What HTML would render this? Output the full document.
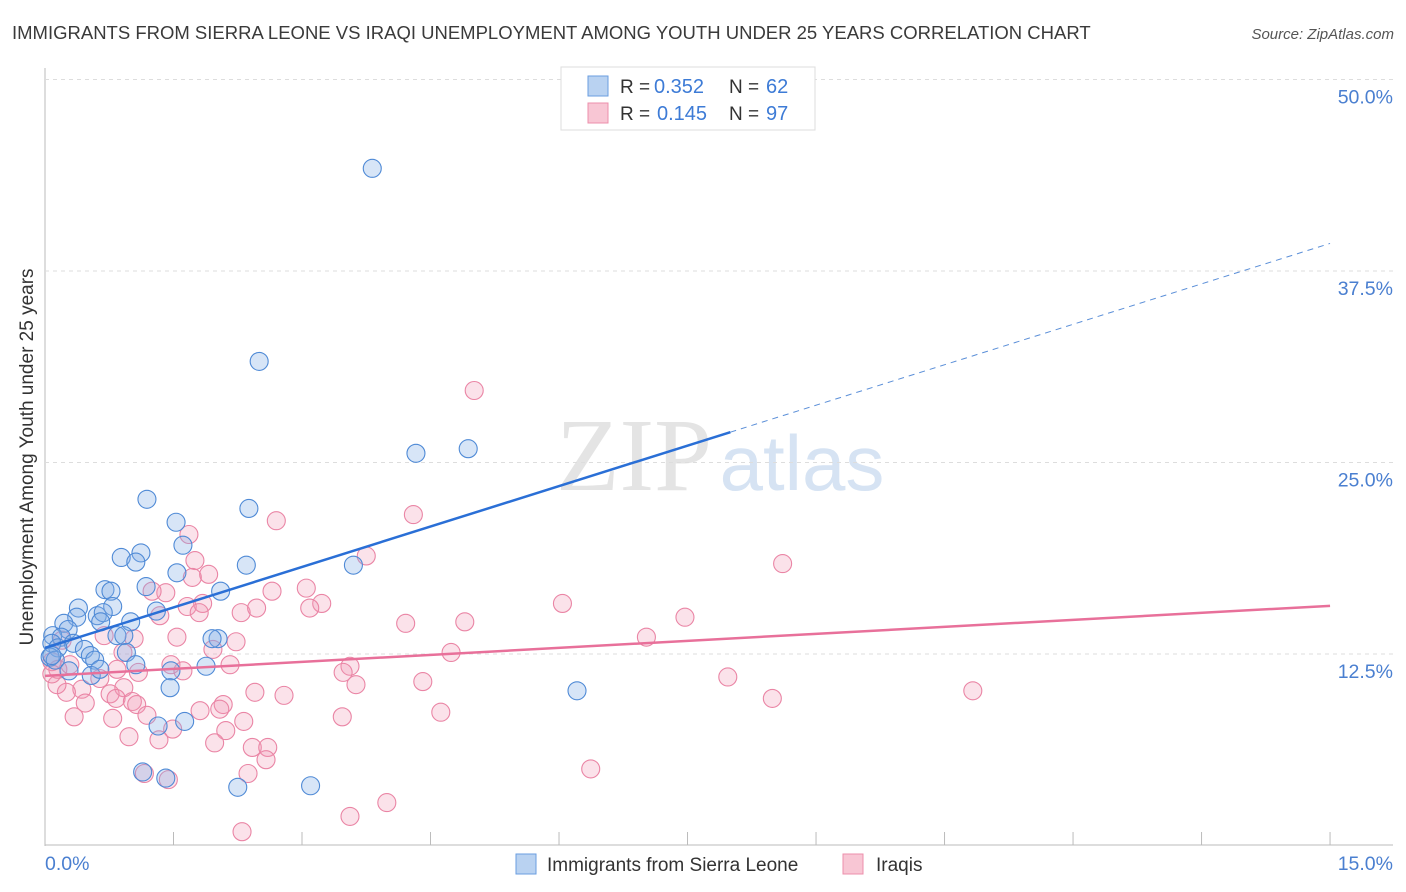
<!DOCTYPE html>
<html><head><meta charset="utf-8"><style>
body{margin:0;background:#fff;font-family:"Liberation Sans",sans-serif;}
#wrap{position:relative;width:1406px;height:892px;overflow:hidden}
</style></head><body><div id="wrap">
<svg id="svg" width="1406" height="892" xmlns="http://www.w3.org/2000/svg">
<text x="12" y="39" font-size="18.5" fill="#3a3a3a">IMMIGRANTS FROM SIERRA LEONE VS IRAQI UNEMPLOYMENT AMONG YOUTH UNDER 25 YEARS CORRELATION CHART</text>
<text x="1394" y="39" font-size="15" font-style="italic" fill="#555" text-anchor="end">Source: ZipAtlas.com</text>
<g><text x="634" y="490" font-family="Liberation Serif,serif" font-size="104" fill="#e4e4e4" text-anchor="middle">ZIP</text><text x="802" y="490" font-size="78" fill="#d6e3f3" text-anchor="middle">atlas</text></g>
<g id="grid"></g><g id="pts"></g><g id="lines"></g>
<text x="33" y="457" font-size="19" fill="#333" text-anchor="middle" transform="rotate(-90 33 457)">Unemployment Among Youth under 25 years</text>
<text x="45" y="870" font-size="19.5" fill="#4a7fd0">0.0%</text>
<text x="1393" y="870" font-size="19.5" fill="#4a7fd0" text-anchor="end">15.0%</text>
<g>
<rect x="561" y="67" width="254" height="63" fill="#fff" stroke="#ddd"/>
<rect x="588" y="76" width="20" height="20" fill="#b9d2f1" stroke="#6a9ee0"/>
<rect x="588" y="103" width="20" height="20" fill="#f8c6d4" stroke="#ec8fab"/>
<text x="620" y="93" font-size="19" fill="#333">R =</text><text x="654" y="93" font-size="20" fill="#3d7bd6">0.352</text>
<text x="729" y="93" font-size="19" fill="#333">N =</text><text x="766" y="93" font-size="20" fill="#3d7bd6">62</text>
<text x="620" y="120" font-size="19" fill="#333">R =</text><text x="657" y="120" font-size="20" fill="#3d7bd6">0.145</text>
<text x="729" y="120" font-size="19" fill="#333">N =</text><text x="766" y="120" font-size="20" fill="#3d7bd6">97</text>
</g>
<g>
<rect x="516" y="854" width="20" height="20" fill="#b9d2f1" stroke="#6a9ee0"/>
<text x="547" y="871" font-size="19" fill="#333">Immigrants from Sierra Leone</text>
<rect x="843" y="854" width="20" height="20" fill="#f8c6d4" stroke="#ec8fab"/>
<text x="876" y="871" font-size="19" fill="#333">Iraqis</text>
</g>
</svg></div>
<script>
const yTicks=[12.5,25,37.5,50];
const yTickLabels=["12.5%","25.0%","37.5%","50.0%"];
const blueX=[3.82,2.50,4.33,4.94,1.19,2.38,1.53,1.61,1.12,0.89,1.06,2.35,3.60,1.54,1.18,0.70,0.77,2.05,0.39,0.79,1.30,0.61,0.68,0.37,0.22,0.65,1.00,0.27,0.84,0.92,0.09,0.19,2.02,0.33,0.08,0.15,0.46,0.95,0.53,0.06,0.12,0.58,1.06,1.88,1.47,0.28,0.54,1.46,6.21,1.63,1.32,1.14,1.41,2.25,3.10,1.95,0.08,0.64];
const blueY=[44.2,31.6,25.6,25.9,22.6,22.0,21.1,19.6,19.1,18.8,18.5,18.3,18.3,17.8,16.9,16.7,16.6,16.6,15.5,15.6,15.3,15.0,15.2,14.9,14.5,14.6,14.6,14.1,13.7,13.7,13.7,13.6,13.5,13.2,13.2,12.9,12.8,12.6,12.4,12.3,12.1,12.1,11.8,11.7,11.4,11.4,11.1,10.3,10.1,8.1,7.8,4.8,4.4,3.8,3.9,13.5,12.4,11.5];
const pinkX=[5.01,4.30,2.70,1.68,3.75,8.61,1.75,1.72,1.91,1.41,3.05,2.65,1.25,1.84,3.23,6.04,1.66,1.80,1.34,2.29,2.47,3.09,7.47,4.21,4.90,7.02,1.54,2.23,1.04,0.69,0.91,4.74,1.96,3.56,3.48,2.16,1.47,1.61,1.09,0.84,0.64,7.97,4.41,3.63,0.92,0.76,0.43,0.25,0.14,10.83,2.45,2.79,0.83,1.02,0.47,8.49,2.08,2.04,1.81,1.07,4.62,0.34,1.19,0.79,3.47,2.32,1.49,2.11,0.98,1.33,1.98,2.42,2.60,2.58,2.37,6.37,1.16,1.44,3.99,3.56,2.30,0.15,0.08,0.29,0.20,0.08];
const pinkY=[29.7,21.6,21.2,20.3,18.9,18.4,18.6,17.5,17.7,16.5,16.8,16.6,16.6,15.8,15.8,15.8,15.6,15.2,15.0,15.2,15.5,15.5,14.9,14.5,14.6,13.6,13.6,13.3,13.5,13.7,12.6,12.6,12.8,11.7,11.3,11.8,11.8,11.4,11.3,11.5,10.9,11.0,10.7,10.5,10.3,9.9,10.2,10.0,10.5,10.1,10.0,9.8,9.6,9.4,9.3,9.6,9.2,8.9,8.8,9.2,8.7,8.4,8.5,8.3,8.4,8.1,7.6,7.5,7.1,6.9,6.7,6.4,6.4,5.6,4.7,5.0,4.7,4.3,2.8,1.9,0.9,11.5,12.0,11.8,13.4,11.2];
const blueTrend=[12.9,1.76];
const pinkTrend=[11.07,0.305];
const NS="http://www.w3.org/2000/svg";
const sx=v=>45+v*85.67, sy=v=>845.5-v*15.32;
function mk(t,a,p){const e=document.createElementNS(NS,t);for(const k in a)e.setAttribute(k,a[k]);p.appendChild(e);return e;}
const grid=document.getElementById('grid'),pts=document.getElementById('pts'),lines=document.getElementById('lines');
let ax=mk('line',{x1:45,y1:68,x2:45,y2:846,stroke:'#bbb'},grid);


let bx=mk('line',{x1:45,y1:845,x2:1393,y2:845,stroke:'#bbb'},grid);


for(let i=0;i<=10;i++){const t=mk('line',{x1:sx(i*1.5),y1:832,x2:sx(i*1.5),y2:845,stroke:'#bbb'},grid);

}
yTicks.forEach((v,i)=>{const g=mk('line',{x1:45,y1:sy(v),x2:1393,y2:sy(v),stroke:'#ddd','stroke-dasharray':'4,4'},grid);


const t=mk('text',{x:1393,y:sy(v)+24,'font-size':19.5,fill:'#4a7fd0','text-anchor':'end'},grid);t.textContent=yTickLabels[i];

});
pinkX.forEach((x,i)=>{const c=mk('circle',{cx:sx(x),cy:sy(pinkY[i]),r:9,fill:'rgba(242,150,180,0.28)',stroke:'#ea85a5','stroke-width':1.1},pts);

});
blueX.forEach((x,i)=>{const c=mk('circle',{cx:sx(x),cy:sy(blueY[i]),r:9,fill:'rgba(130,175,230,0.32)',stroke:'#4f8ad6','stroke-width':1.1},pts);

});
const bf=x=>blueTrend[0]+blueTrend[1]*x, pf=x=>pinkTrend[0]+pinkTrend[1]*x;
let l1=mk('line',{x1:sx(0),y1:sy(bf(0)),x2:sx(8),y2:sy(bf(8)),stroke:'#2a6fd6','stroke-width':2.5},lines);


let l2=mk('line',{x1:sx(8),y1:sy(bf(8)),x2:sx(15),y2:sy(bf(15)),stroke:'#5b8fd8','stroke-width':1,'stroke-dasharray':'6,5'},lines);


let l3=mk('line',{x1:sx(0),y1:sy(pf(0)),x2:sx(15),y2:sy(pf(15)),stroke:'#e8709a','stroke-width':2.5},lines);


</script></body></html>
